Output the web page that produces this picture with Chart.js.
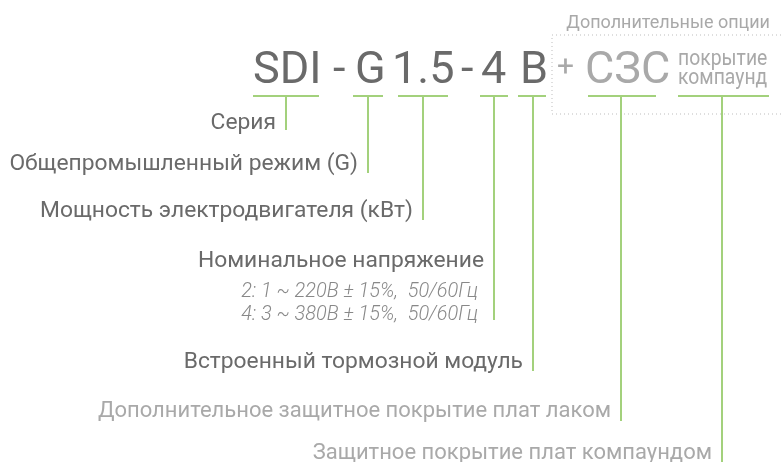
<!DOCTYPE html>
<html lang="ru">
<head>
  <meta charset="UTF-8">
  <title>SDI - G 1.5 - 4 B</title>
  <script src="https://cdn.jsdelivr.net/npm/chart.js"></script>
  <style>
    body {
      margin: 0;
      background: #fff;
    }
    #wrap {
      width: 781px;
      height: 462px;
      position: relative;
    }
  </style>
</head>
<body>
  <div id="wrap">
    <canvas id="codeChart"></canvas>
  </div>

  <script>
    // части обозначения
    const codeParts = ['SDI', '-', 'G', '1.5', '-', '4', 'B'];
    const optionParts = ['+', 'СЗС'];
    const optionNote = ['покрытие', 'компаунд'];
    const optionTitle = 'Дополнительные опции';

    // расшифровка (по порядку выносок)
    const descriptions = [
      'Серия',
      'Общепромышленный режим (G)',
      'Мощность электродвигателя (кВт)',
      'Номинальное напряжение',
      'Встроенный тормозной модуль',
      'Дополнительное защитное покрытие плат лаком',
      'Защитное покрытие плат компаундом'
    ];
    const voltageNotes = ['2: 1 ~ 220В ± 15%,  50/60Гц', '4: 3 ~ 380В ± 15%,  50/60Гц'];
    const isOption = [false, false, false, false, false, true, true];

    // раскладка выносок (в координатах шкал)
    const barY = 96;
    const bars = [[253, 319], [353, 383], [398, 448], [480, 508], [518, 546], [588, 656], [678, 769]];
    const stems = [286, 368, 423, 494, 533, 621, 722];
    const stemEnds = [130, 173, 220, 320, 371, 421, 462];
    const textBase = [129, 170, 217, 267, 368, 417, 459];
    const codeX = [253, 333, 355, 392, 461, 481, 520];
    const optionX = [557, 585];
    const box = { left: 552, top: 35, bottom: 114, right: 781 };

    const DARK = '#6a6a6a';
    const LIGHT = '#a9a9a9';
    const GREEN = '#a3d17c';
    const DOTS = '#bdbdbd';

    const datasets = bars.map((b, i) => ({
      data: [
        { x: b[0], y: barY }, { x: stems[i], y: barY }, { x: b[1], y: barY },
        { x: stems[i], y: barY }, { x: stems[i], y: stemEnds[i] }
      ],
      borderColor: GREEN,
      borderWidth: 2,
      pointRadius: 0,
      showLine: true,
      fill: false
    }));

    datasets.push({
      data: [
        { x: box.right, y: box.top }, { x: box.left, y: box.top },
        { x: box.left, y: box.bottom }, { x: box.right, y: box.bottom }
      ],
      borderColor: DOTS,
      borderWidth: 1,
      borderDash: [1, 3],
      pointRadius: 0,
      showLine: true,
      fill: false
    });

    // узкий текст: рисуем со сжатием по горизонтали
    function narrowText(ctx, text, x, y, k) {
      ctx.save();
      ctx.translate(x, y);
      ctx.scale(k, 1);
      ctx.fillText(text, 0, 0);
      ctx.restore();
    }

    const textPlugin = {
      id: 'codeText',
      afterDatasetsDraw(chart) {
        const ctx = chart.ctx;
        const sx = chart.scales.x;
        const sy = chart.scales.y;
        const px = v => sx.getPixelForValue(v);
        const py = v => sy.getPixelForValue(v);
        ctx.save();
        ctx.textBaseline = 'alphabetic';

        // крупное обозначение
        ctx.textAlign = 'left';
        ctx.fillStyle = DARK;
        ctx.font = '400 45px Roboto';
        codeParts.forEach((t, i) => ctx.fillText(t, px(codeX[i]), py(83)));

        ctx.fillStyle = LIGHT;
        ctx.font = '400 30px Roboto';
        ctx.fillText(optionParts[0], px(optionX[0]), py(76));
        ctx.font = '400 45px Roboto';
        ctx.fillText(optionParts[1], px(optionX[1]), py(83));

        ctx.font = '400 22px Roboto';
        narrowText(ctx, optionNote[0], px(678), py(65), 0.88);
        narrowText(ctx, optionNote[1], px(678), py(84), 0.88);

        ctx.font = '400 18px Roboto';
        ctx.textAlign = 'right';
        ctx.fillText(optionTitle, px(770), py(28));

        // расшифровка
        descriptions.forEach((t, i) => {
          ctx.fillStyle = isOption[i] ? LIGHT : DARK;
          ctx.font = isOption[i] ? '400 22px Roboto' : '400 22.8px Roboto';
          ctx.fillText(t, px(stems[i] - 10), py(textBase[i]));
        });

        ctx.fillStyle = '#888888';
        ctx.font = 'italic 300 21px Roboto';
        voltageNotes.forEach((t, i) => {
          narrowText(ctx, t, px(478), py(297 + i * 23), 0.95);
        });
        ctx.restore();
      }
    };

    new Chart(document.getElementById('codeChart'), {
      type: 'scatter',
      data: { datasets: datasets },
      options: {
        responsive: true,
        maintainAspectRatio: false,
        animation: false,
        layout: { padding: 0 },
        plugins: {
          legend: { display: false },
          tooltip: { enabled: false }
        },
        scales: {
          x: { type: 'linear', min: 0, max: 781, display: false },
          y: { type: 'linear', min: 0, max: 462, reverse: true, display: false }
        }
      },
      plugins: [textPlugin]
    });
  </script>
</body>
</html>
